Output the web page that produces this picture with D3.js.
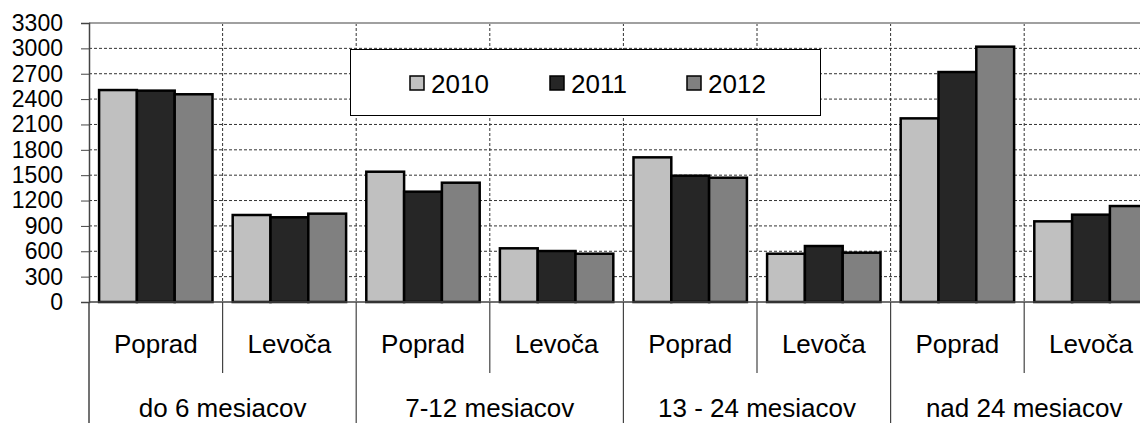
<!DOCTYPE html>
<html>
<head>
<meta charset="utf-8">
<script src="https://cdn.jsdelivr.net/npm/d3@7.9.0/dist/d3.min.js"></script>
<style>
  html, body { margin: 0; padding: 0; background: #fff; }
  svg { display: block; font-family: "Liberation Sans", Arial, sans-serif; }
</style>
</head>
<body>
<svg id="chart" width="1140" height="423"></svg>
<script>
// ---------------------------------------------------------------------------
// Data
// ---------------------------------------------------------------------------
const groups = ['do 6 mesiacov', '7-12 mesiacov', '13 - 24 mesiacov', 'nad 24 mesiacov'];
const cities = ['Poprad', 'Levoča'];
const years = ['2010', '2011', '2012'];
const yearColors = ['#c0c0c0', '#262626', '#808080'];
const yTicks = [0, 300, 600, 900, 1200, 1500, 1800, 2100, 2400, 2700, 3000, 3300];

// values per category (group x city), order follows groups then cities
const values2010 = [2507, 1029, 1541, 635, 1711, 571, 2172, 954];
const values2011 = [2500, 1002, 1305, 603, 1494, 662, 2720, 1033];
const values2012 = [2457, 1045, 1411, 571, 1470, 583, 3020, 1135];
const series = [values2010, values2011, values2012];

// ---------------------------------------------------------------------------
// Layout
// ---------------------------------------------------------------------------
const svg = d3.select('#chart');
const plotLeft = 89, plotTop = 23, plotBottom = 302;
const catWidth = 133.6;

const cats = [];
groups.forEach((g, gi) => cities.forEach((c, ci) => cats.push({ key: gi + '|' + ci, group: g, city: c })));

const x = d3.scaleBand()
  .domain(cats.map(d => d.key))
  .range([plotLeft, plotLeft + catWidth * cats.length]);

const xSub = d3.scaleBand()
  .domain(years)
  .range([0, x.bandwidth()])
  .paddingOuter(0.267);

const y = d3.scaleLinear().domain([0, 3300]).range([plotBottom, plotTop]);

// ---------------------------------------------------------------------------
// Grid
// ---------------------------------------------------------------------------
const grid = svg.append('g');
grid.append('g').selectAll('line')
  .data(yTicks.filter(t => t > 0 && t < 3300))
  .join('line')
  .attr('x1', plotLeft).attr('x2', 1140)
  .attr('y1', d => y(d)).attr('y2', d => y(d))
  .attr('stroke', '#333').attr('stroke-width', 1)
  .attr('stroke-dasharray', '3,2');

grid.append('g').selectAll('line')
  .data(cats.slice(1))
  .join('line')
  .attr('x1', d => x(d.key)).attr('x2', d => x(d.key))
  .attr('y1', plotTop).attr('y2', plotBottom)
  .attr('stroke', '#333').attr('stroke-width', 1)
  .attr('stroke-dasharray', '3,2');

// top border
svg.append('line')
  .attr('x1', plotLeft).attr('x2', 1140)
  .attr('y1', y(3300)).attr('y2', y(3300))
  .attr('stroke', '#a0a0a0').attr('stroke-width', 2);

// ---------------------------------------------------------------------------
// Bars
// ---------------------------------------------------------------------------
years.forEach((yr, yi) => {
  svg.append('g')
    .selectAll('rect')
    .data(cats)
    .join('rect')
    .attr('x', d => x(d.key) + xSub(yr))
    .attr('width', xSub.bandwidth())
    .attr('y', (d, i) => y(series[yi][i]))
    .attr('height', (d, i) => y(0) - y(series[yi][i]))
    .attr('fill', yearColors[yi])
    .attr('stroke', '#000')
    .attr('stroke-width', 2.5);
});

// ---------------------------------------------------------------------------
// Axes
// ---------------------------------------------------------------------------
const yAxis = svg.append('g')
  .attr('transform', `translate(${plotLeft},0)`)
  .call(d3.axisLeft(y).tickValues(yTicks).tickFormat(d3.format('d')).tickSize(8).tickPadding(18));
yAxis.select('.domain').attr('stroke', '#444').attr('stroke-width', 1.5);
yAxis.selectAll('.tick line').attr('stroke', '#444');
yAxis.selectAll('.tick text')
  .attr('font-size', 23).attr('fill', '#000')
  .attr('font-family', '"Liberation Sans", Arial, sans-serif');

// bottom axis line
svg.append('line')
  .attr('x1', plotLeft).attr('x2', 1140)
  .attr('y1', plotBottom).attr('y2', plotBottom)
  .attr('stroke', '#444').attr('stroke-width', 1.5);

// category table lines
svg.append('line')
  .attr('x1', plotLeft).attr('x2', plotLeft)
  .attr('y1', plotBottom).attr('y2', 423)
  .attr('stroke', '#444').attr('stroke-width', 1.5);

svg.append('g')
  .selectAll('line')
  .data(cats.slice(1))
  .join('line')
  .attr('x1', d => x(d.key)).attr('x2', d => x(d.key))
  .attr('y1', plotBottom)
  .attr('y2', d => d.city === cities[0] ? 423 : 373)
  .attr('stroke', '#444').attr('stroke-width', 1.2);

// city labels
svg.append('g')
  .selectAll('text')
  .data(cats)
  .join('text')
  .attr('x', d => x(d.key) + x.bandwidth() / 2)
  .attr('y', 353)
  .attr('text-anchor', 'middle')
  .attr('font-size', 26)
  .text(d => d.city);

// group labels (cut at the bottom edge in the original; kept just inside)
svg.append('g')
  .selectAll('text')
  .data(groups)
  .join('text')
  .attr('x', (d, gi) => x(gi + '|0') + x.bandwidth())
  .attr('y', 417)
  .attr('text-anchor', 'middle')
  .attr('font-size', 26)
  .text(d => d);

// ---------------------------------------------------------------------------
// Legend
// ---------------------------------------------------------------------------
const legend = svg.append('g');
legend.append('rect')
  .attr('x', 350.5).attr('y', 49.5)
  .attr('width', 470).attr('height', 66)
  .attr('fill', '#fff').attr('stroke', '#000').attr('stroke-width', 1);

const legendX = [410, 550, 687];
years.forEach((yr, yi) => {
  legend.append('rect')
    .attr('x', legendX[yi]).attr('y', 76)
    .attr('width', 14).attr('height', 14)
    .attr('fill', yearColors[yi])
    .attr('stroke', '#000').attr('stroke-width', 1.5);
  legend.append('text')
    .attr('x', legendX[yi] + 21).attr('y', 93)
    .attr('font-size', 26)
    .text(yr);
});
</script>
</body>
</html>
